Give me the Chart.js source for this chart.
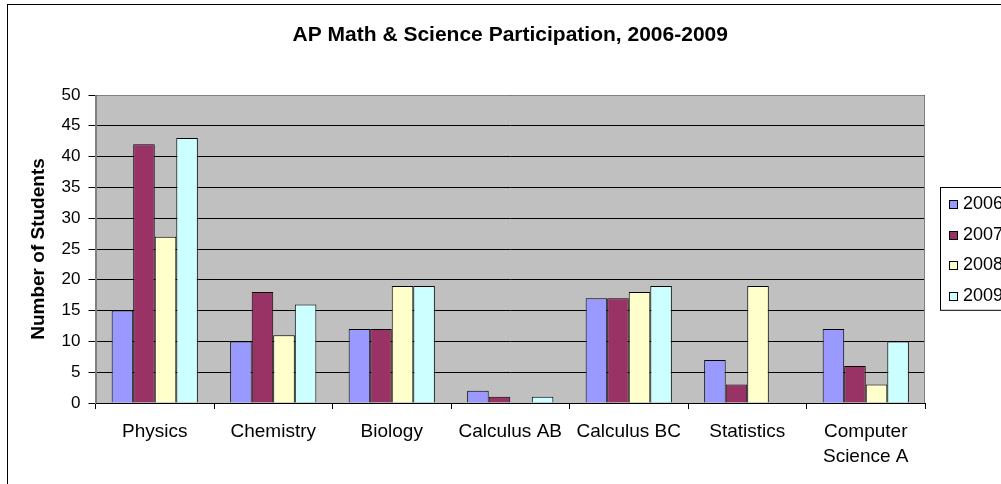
<!DOCTYPE html>
<html>
<head>
<meta charset="utf-8">
<script src="https://cdn.jsdelivr.net/npm/chart.js@4/dist/chart.umd.min.js"></script>
<style>
  html, body { margin: 0; padding: 0; background: #fff; overflow: hidden; width: 1001px; height: 484px; }
  #wrap { position: absolute; left: 0; top: 0; width: 1040px; height: 520px; }
</style>
</head>
<body>
<div id="wrap"><canvas id="c" width="1040" height="520"></canvas></div>
<script>
const categories = ['Physics', 'Chemistry', 'Biology', 'Calculus AB', 'Calculus BC', 'Statistics', ['Computer', 'Science A']];
const seriesNames = ['2006', '2007', '2008', '2009'];
const values2006 = [15, 10, 12, 2, 17, 7, 12];
const values2007 = [42, 18, 12, 1, 17, 3, 6];
const values2008 = [27, 11, 19, 0, 18, 19, 3];
const values2009 = [43, 16, 19, 1, 19, 0, 10];
const yTicks = [0, 5, 10, 15, 20, 25, 30, 35, 40, 45, 50];
const chartTitle = 'AP Math & Science Participation, 2006-2009';
const yTitle = 'Number of Students';

const colors = ['#9999FF', '#993366', '#FFFFCC', '#CCFFFF'];
const seriesValues = [values2006, values2007, values2008, values2009];
const FONT = "'Liberation Sans', Arial, sans-serif";

const frame = {
  id: 'frame',
  beforeDraw(chart) {
    const { ctx, chartArea: a } = chart;
    ctx.save();
    ctx.fillStyle = '#fff';
    ctx.fillRect(0, 0, chart.width, chart.height);
    ctx.strokeStyle = '#000';
    ctx.lineWidth = 1;
    ctx.strokeRect(7.5, 4.5, chart.width, chart.height);
    ctx.fillStyle = '#C0C0C0';
    ctx.fillRect(a.left, a.top, a.right - a.left, a.bottom - a.top);
    ctx.restore();
  },
  beforeDatasetsDraw(chart) {
    const { ctx, chartArea: a } = chart;
    ctx.save();
    ctx.strokeStyle = '#808080';
    ctx.lineWidth = 1;
    ctx.beginPath();
    const l = Math.round(a.left) + 0.5, r = Math.round(a.right) - 0.5, t = Math.round(a.top) + 0.5, b = Math.round(a.bottom);
    ctx.moveTo(l, b); ctx.lineTo(l, t); ctx.lineTo(r, t); ctx.lineTo(r, b);
    ctx.stroke();
    ctx.restore();
  },
  afterDraw(chart) {
    const ctx = chart.ctx;
    ctx.save();
    const bx = 940.5, by = 187.5, step = 30.7;
    ctx.fillStyle = '#fff';
    ctx.fillRect(bx, by, 200, step * 4);
    ctx.strokeStyle = '#000';
    ctx.lineWidth = 1;
    ctx.strokeRect(bx, by, 200, step * 4);
    ctx.font = '18px ' + FONT;
    ctx.textBaseline = 'middle';
    chart.data.datasets.forEach((ds, i) => {
      const cy = by + step * (i + 0.5) + 1;
      ctx.fillStyle = ds.backgroundColor;
      ctx.fillRect(949.5, Math.round(cy - 4) + 0.5, 8, 8);
      ctx.strokeStyle = '#000';
      ctx.strokeRect(949.5, Math.round(cy - 4) + 0.5, 8, 8);
      ctx.fillStyle = '#000';
      ctx.fillText(ds.label, 963, cy);
    });
    ctx.restore();
  }
};

new Chart(document.getElementById('c'), {
  type: 'bar',
  data: {
    labels: categories,
    datasets: seriesNames.map((name, i) => ({
      label: name,
      data: seriesValues[i],
      backgroundColor: colors[i],
      borderColor: '#000',
      borderWidth: 1,
      borderSkipped: 'start',
      categoryPercentage: 4 / 5.5,
      barPercentage: 1
    }))
  },
  options: {
    responsive: false,
    animation: false,
    devicePixelRatio: 1,
    layout: { padding: { left: 20, right: 115, top: 0, bottom: 57 } },
    plugins: {
      legend: { display: false },
      tooltip: { enabled: false },
      title: {
        display: true,
        text: chartTitle,
        fullSize: false,
        color: '#000',
        font: { family: FONT, size: 21, weight: 'bold', lineHeight: 1.2 },
        padding: { top: 23, bottom: 46.8 }
      }
    },
    scales: {
      x: {
        afterFit(scale) { scale.height = 60; },
        grid: { display: true, drawOnChartArea: false, drawTicks: true, tickLength: 6, tickColor: '#000', offset: true },
        border: { display: true, color: '#000', width: 1 },
        ticks: { color: '#000', padding: 10, maxRotation: 0, autoSkip: false, font: { family: FONT, size: 19, lineHeight: 1.316 } }
      },
      y: {
        min: 0,
        max: 50,
        afterFit(scale) { scale.width = 75.5; },
        afterBuildTicks(scale) { scale.ticks = yTicks.map(v => ({ value: v })); },
        grid: { color: '#000', tickColor: '#000', tickLength: 7, lineWidth: 1 },
        border: { display: true, color: '#808080', width: 1 },
        ticks: { color: '#000', padding: 8, font: { family: FONT, size: 17 } },
        title: {
          display: true,
          text: yTitle,
          color: '#000',
          font: { family: FONT, size: 19, weight: 'bold', lineHeight: 1.2 },
          padding: { top: 7, bottom: 0 }
        }
      }
    }
  },
  plugins: [frame]
});
</script>
</body>
</html>
